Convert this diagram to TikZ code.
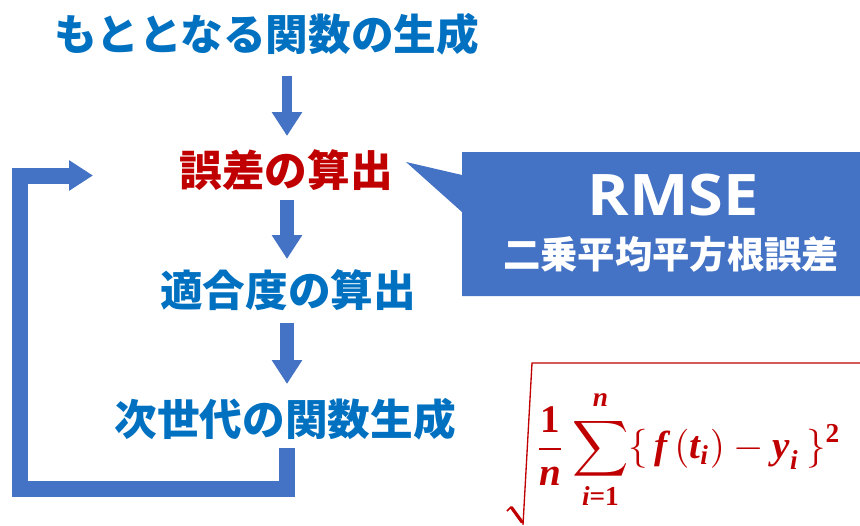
\documentclass[tikz,border=0pt]{standalone}
\usepackage{fontspec}
\usepackage{amsmath}
\setmainfont{Liberation Sans}
\newfontfamily\jpfont{Noto Sans CJK JP}
\newfontfamily\latinbold{Open Sans}
\newfontfamily\mathserif{Liberation Serif}
\newcommand\bfi[1]{\text{\mathserif\bfseries\itshape #1}}
\newcommand\bfu[1]{\text{\mathserif\bfseries #1}}
\usetikzlibrary{arrows.meta}
\definecolor{txtblue}{HTML}{0070C0}
\definecolor{txtred}{HTML}{C00000}
\definecolor{shapeblue}{HTML}{4472C4}
\tikzset{
  stepname/.style={inner sep=0pt, anchor=center, font=\jpfont\bfseries\fontsize{32pt}{36pt}\selectfont},
  blockarrow/.style={draw=shapeblue, line width=#1, line cap=butt,
    -{Triangle[length=18pt,width=21.75pt]}},
}
\begin{document}
\begin{tikzpicture}[x=0.75pt,y=-0.75pt]
\useasboundingbox (0,0) rectangle (860,525);
\clip (0,0) rectangle (860,525);

% step texts
\node[stepname, text=txtblue] (t0) at (267,34) {もととなる関数の生成};
\node[stepname, text=txtred]  (t1) at (286,170) {誤差の算出};
\node[stepname, text=txtblue] (t2) at (288,290) {適合度の算出};
\node[stepname, text=txtblue] (t3) at (285,419) {次世代の関数生成};

% arrow end points
\coordinate (a0s) at (287,76);  \coordinate (a0e) at (287,136);
\coordinate (a1s) at (287,200); \coordinate (a1e) at (287,259);
\coordinate (a2s) at (287,323); \coordinate (a2e) at (287,384);
\coordinate (ls) at (287,448);  \coordinate (lb) at (287,489);
\coordinate (ll) at (20,489);   \coordinate (lt) at (20,175.5);
\coordinate (le) at (93,175.5);

\draw[blockarrow=7.5pt] (a0s) -- (a0e);
\draw[blockarrow=10.5pt] (a1s) -- (a1e);
\draw[blockarrow=10.5pt] (a2s) -- (a2e);
\draw[draw=shapeblue, line width=12pt, line join=miter, line cap=butt,
  -{Triangle[length=18pt,width=21.75pt]}] (ls) -- (lb) -- (ll) -- (lt) -- (le);

% callout
\fill[shapeblue] (462,152) -- (861,152) -- (861,296) -- (462,296) -- (462,212)
  -- (406,162) -- (462,175) -- cycle;
\node[inner sep=0pt, text=white, xscale=1.1, font=\latinbold\bfseries\fontsize{43pt}{48pt}\selectfont]
  (rmse) at (673,195) {RMSE};
\node[inner sep=0pt, text=white, font=\jpfont\bfseries\fontsize{28pt}{32pt}\selectfont]
  (rmsejp) at (671,254) {二乗平均平方根誤差};

% formula
\node[inner sep=0pt, text=txtred] (formula) at (688,450)
  {\resizebox{230pt}{!}{$\displaystyle \frac{\bfu{1}}{\bfi{n}}\sum_{\bfi{i}\bfu{=1}}^{\raisebox{0.8pt}{$\scriptstyle\bfi{n}$}}\{\,\bfi{f}\,(\bfi{t}_{\bfi{i}})-\bfi{y}_{\bfi{i}}\,\}^{\bfu{2}}$}};
\draw[txtred, line width=1.1pt] (507,511) -- (511,507);
\draw[txtred, line width=2.4pt, line cap=round] (511.5,507.5) -- (522,522);
\draw[txtred, line width=1pt, line join=miter] (523,525) -- (532,363) -- (862,363);
\end{tikzpicture}
\end{document}
